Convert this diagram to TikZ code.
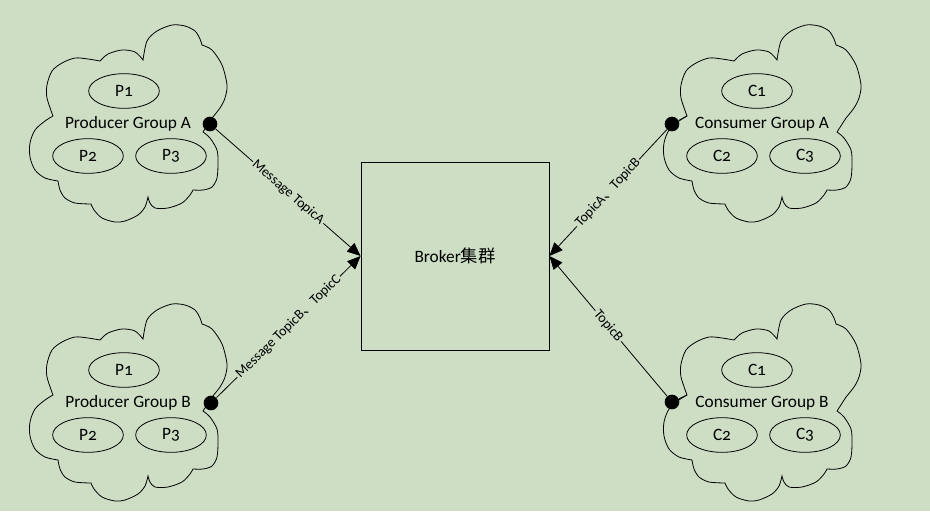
\documentclass[tikz,border=0pt]{standalone}
\usepackage{fontspec}
\setmainfont{Carlito}[Numbers=OldStyle]
\newfontfamily\cjk{Noto Sans CJK SC}
\usetikzlibrary{shapes.geometric,arrows.meta}
\definecolor{bg}{RGB}{205,222,197}
\tikzset{
  member/.style={shape=ellipse,draw,minimum width=53pt,minimum height=26pt,inner sep=0pt},
  dot/.style={shape=circle,fill,inner sep=0pt,minimum size=11pt},
  topic/.style={sloped,fill=bg,inner sep=1pt,font=\fontsize{10.5}{12}\selectfont},
}
% cloud outline of one group, shifted from group A
\newcommand{\groupcloud}[1]{%
\begin{scope}[shift={#1}]
\draw plot[smooth] coordinates {(53,116) (47,98) (47,85) (52,71) (62,63) (75,58) (88,59) (100,61)}
  -- plot[smooth] coordinates {(100,61) (108,54) (122,50) (135,52) (143,60)}
  -- plot[smooth] coordinates {(143,60) (147,41) (157,31) (172,25) (185,26) (195,31) (200,39) (202,45)}
  -- plot[smooth] coordinates {(202,45) (212,50) (222,65) (227,85) (225,98) (220,108) (212,118)}
  -- (203,132)
  -- plot[smooth] coordinates {(203,132) (210,138) (217,150) (218,163) (217,178) (212,187) (203,190) (193,190)}
  -- plot[smooth] coordinates {(193,190) (190,195) (182,203) (168,208) (155,208) (150,203) (148,197)}
  -- plot[smooth] coordinates {(148,197) (145,207) (138,215) (125,221) (115,222) (102,218) (94,210) (91,204)}
  -- plot[smooth] coordinates {(91,204) (75,203) (65,198) (60,190) (58,181)}
  -- plot[smooth] coordinates {(58,181) (45,178) (35,170) (30,157) (30,143) (35,130) (45,121) (53,116)}
  -- cycle;
\end{scope}}
\begin{document}
\begin{tikzpicture}[x=0.75pt,y=-0.75pt,line width=0.6pt,font=\fontsize{13}{15}\selectfont]
\fill[bg] (0,0) rectangle (930,511);
\useasboundingbox (0,0) rectangle (930,511);

\groupcloud{(0,0)}
\groupcloud{(0,279)}
\groupcloud{(634,0)}
\groupcloud{(634,279)}

\node(pa)  at (128,124) {Producer Group A};
\node(pa1) at (124,91)[member]  {P1};
\node(pa2) at (88,156)[member]  {P2};
\node(pa3) at (171,156)[member] {P3};
\node(padot) at (210,124)[dot] {};

\node(pb)  at (128,403) {Producer Group B};
\node(pb1) at (124,370)[member] {P1};
\node(pb2) at (88,435)[member]  {P2};
\node(pb3) at (171,435)[member] {P3};
\node(pbdot) at (211,403)[dot] {};

\node(ca)  at (762,124) {Consumer Group A};
\node(ca1) at (757,91)[member]  {C1};
\node(ca2) at (722,156)[member] {C2};
\node(ca3) at (805,156)[member] {C3};
\node(cadot) at (672,124)[dot] {};
\coordinate(canotch) at (687,116);

\node(cb)  at (762,403) {Consumer Group B};
\node(cb1) at (757,370)[member] {C1};
\node(cb2) at (722,435)[member] {C2};
\node(cb3) at (805,435)[member] {C3};
\node(cbdot) at (672,402)[dot] {};
\coordinate(cbnotch) at (687,395);

\node(broker) at (455,256)[draw,minimum width=141pt,minimum height=141pt] {Broker{\cjk 集群}};

\draw (cadot) -- (canotch);
\draw (cbdot) -- (cbnotch);

\path [-{Triangle[length=10pt,width=8.5pt]}]
  (padot)  edge  node [topic] {Message TopicA}                    (broker.west)
  (pbdot)  edge  node [topic] {Message TopicB{\cjk 、}TopicC}     (broker.west)
  (cadot)  edge  node [topic] {TopicA{\cjk 、}TopicB}             (broker.east)
  (cbdot)  edge  node [topic] {TopicB}                            (broker.east);

\end{tikzpicture}
\end{document}
